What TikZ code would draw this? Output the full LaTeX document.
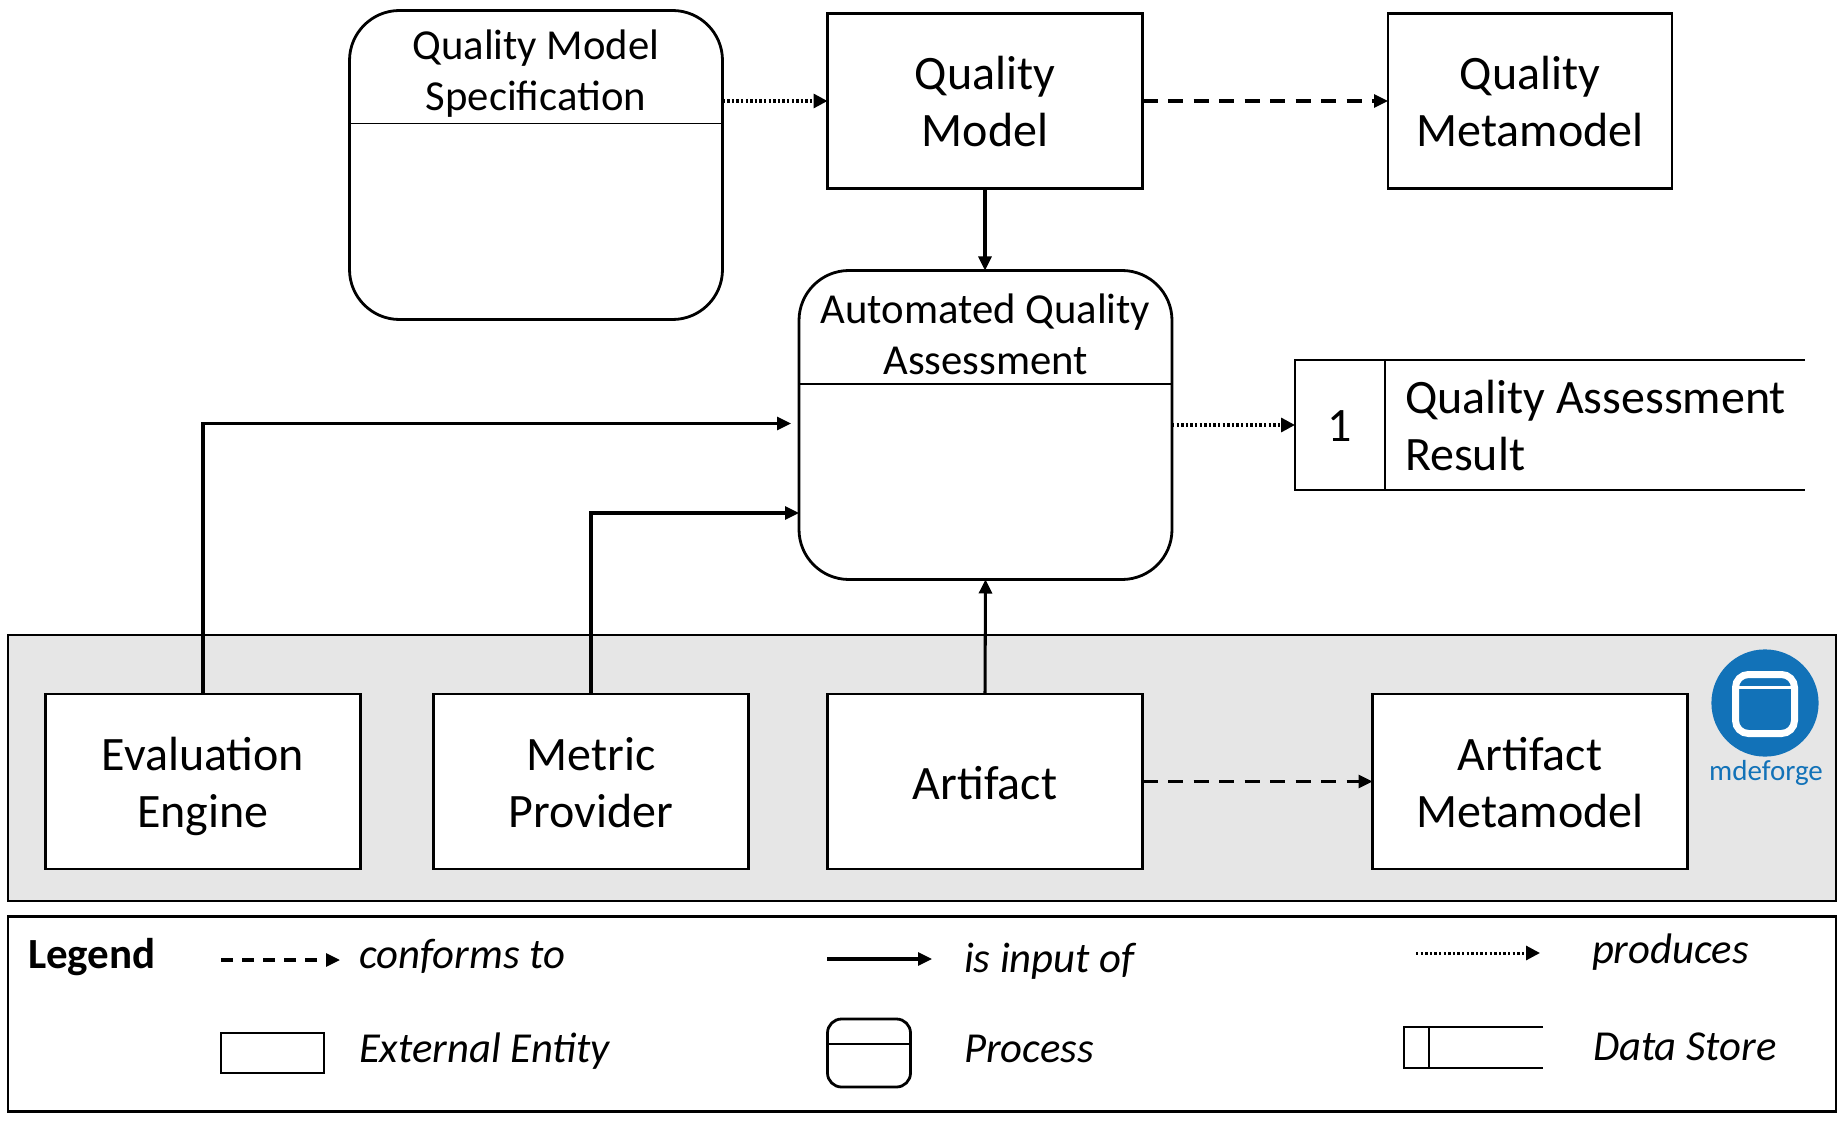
\documentclass[tikz,border=0pt]{standalone}
\usepackage{fontspec}
\setmainfont{Carlito}
\usetikzlibrary{arrows.meta}
\definecolor{panelgray}{HTML}{E6E6E6}
\definecolor{forgeblue}{HTML}{1272B8}
\newcommand\tstr{\rule[-11pt]{0pt}{57pt}}
\tikzset{
  x=1pt,y=-1pt,
  every node/.style={inner sep=0pt,outer sep=0pt},
  linew/.style={line width=2.8pt,black},
  arrowline/.style={line width=3.05pt,black},
  entity/.style={draw,linew,fill=white,minimum height=175pt,minimum width=315pt,align=center,font=\fontsize{48}{57}\selectfont},
  procbox/.style={draw,linew,fill=white,rounded corners=50pt,minimum width=373pt,minimum height=309pt},
  proctitle/.style={align=center,font=\fontsize{42.7}{51.5}\selectfont},
  sepline/.style={line width=1.3pt,black},
  inputarrow/.style={arrowline,-{Triangle[length=14pt,width=13pt]}},
  conformsarrow/.style={arrowline,dash pattern=on 15pt off 10.5pt,-{Triangle[length=14pt,width=13pt]}},
  producesarrow/.style={line width=3.2pt,dash pattern=on 2.4pt off 2.2pt,-{Triangle[length=14pt,width=14pt]}},
  legtext/.style={anchor=west,font=\fontsize{42.7}{50}\selectfont\itshape},
}
\begin{document}
\begin{tikzpicture}
\useasboundingbox (0,0) rectangle (1847,1123);
% panels
\node[draw,linew,fill=panelgray,anchor=north west,minimum width=1828pt,minimum height=266pt] (panel) at (8,635) {};
\node[draw,linew,fill=white,anchor=north west,minimum width=1828pt,minimum height=195pt] (legend) at (8,916.5) {};
% processes
\node[procbox] (qms) at (536,165) {};
\draw[sepline] (qms.west |- 0,123.7) -- (qms.east |- 0,123.7);
\node[proctitle] (qmst) at (536,73.5) {Quality Model\\Specification};
\node[procbox] (aqa) at (985.5,425) {};
\draw[sepline] (aqa.west |- 0,384) -- (aqa.east |- 0,384);
\node[proctitle] (aqat) at (985.5,334.5) {Automated Quality\\Assessment};
% entities
\node[entity] (qm) at (985,101) {\tstr Quality\\\tstr Model};
\node[entity,minimum width=284pt] (qmm) at (1530,101) {\tstr Quality\\\tstr Metamodel};
\node[entity] (ev) at (203,781.5) {\tstr Evaluation\\\tstr Engine};
\node[entity] (mp) at (591,781.5) {\tstr Metric\\\tstr Provider};
\node[entity] (art) at (985,781.5) {\tstr Artifact};
\node[entity] (am) at (1530,781.5) {\tstr Artifact\\\tstr Metamodel};
% data store
\coordinate (dsnw) at (1295,360);
\coordinate (dsne) at (1805,360);
\coordinate (dssw) at (1295,490);
\coordinate (dsse) at (1805,490);
\coordinate (dstop) at (1385,360);
\coordinate (dsbot) at (1385,490);
\draw[linew] (dsne) -- (dsnw) -- (dssw) -- (dsse);
\draw[linew] (dstop) -- (dsbot);
\coordinate (dsw) at (1295,425);
\node[font=\fontsize{48}{57}\selectfont] (dsnum) at (1340,426) {1};
\node[anchor=west,align=left,font=\fontsize{48}{57}\selectfont] (dstext) at (1405,424) {\tstr Quality Assessment\\\tstr Result};
% connectors
\draw[producesarrow] (qm.west -| qms.east) -- (qm.west);
\draw[conformsarrow] (qm.east) -- (qmm.west);
\draw[inputarrow] (qm.south) -- (aqa.north -| qm.south);
\coordinate (evin) at (791,423.5);
\draw[inputarrow] (ev.north) |- (evin);
\coordinate (mpin) at (aqa.west |- 0,513);
\draw[inputarrow] (mp.north) |- (mpin);
\draw[inputarrow] (art.north) -- (aqa.south);
\draw[producesarrow] (aqa.east) -- (dsw);
\draw[conformsarrow] (art.east) -- (am.west);
% logo
\fill[forgeblue] (1765,703) circle (53.6);
\draw[white,line width=7pt,fill=forgeblue,rounded corners=13pt] (1735.5,674.5) rectangle (1794.5,733.5);
\draw[white,line width=3pt] (1733,687) -- (1797,687);
\node[font=\fontsize{29}{34}\selectfont,text=forgeblue] (mdef) at (1766,772.5) {mdeforge};
% legend
\node[anchor=west,font=\fontsize{43}{50}\selectfont\bfseries] (legt) at (28,956.6) {Legend};
\coordinate (la1) at (221,960); \coordinate (la2) at (340,960);
\draw[conformsarrow,dash pattern=on 12pt off 9pt] (la1) -- (la2);
\node[legtext] (lconf) at (359,956.5) {conforms to};
\coordinate (lb1) at (827,959); \coordinate (lb2) at (932,959);
\draw[inputarrow] (lb1) -- (lb2);
\node[legtext] (linput) at (964,961.6) {is input of};
\coordinate (lc1) at (1416,953); \coordinate (lc2) at (1540,953);
\draw[producesarrow,line width=3pt] (lc1) -- (lc2);
\node[legtext] (lprod) at (1592,952.6) {produces};
\node[draw,linew,anchor=north west,minimum width=103pt,minimum height=40pt] (lent) at (221,1033) {};
\node[legtext] (lentt) at (359,1051.6) {External Entity};
\node[draw,linew,anchor=north west,rounded corners=14pt,minimum width=83pt,minimum height=68pt] (lproc) at (827.5,1019) {};
\draw[sepline] (lproc.west |- 0,1044) -- (lproc.east |- 0,1044);
\node[legtext] (lproct) at (964,1049) {Process};
\coordinate (ld1) at (1543,1027); \coordinate (ld2) at (1404,1027);
\coordinate (ld3) at (1404,1068); \coordinate (ld4) at (1543,1068);
\draw[linew] (ld1) -- (ld2) -- (ld3) -- (ld4);
\coordinate (ld5) at (1429,1027); \coordinate (ld6) at (1429,1068);
\draw[linew] (ld5) -- (ld6);
\node[legtext] (ldst) at (1593,1047) {Data Store};
\end{tikzpicture}
\end{document}
